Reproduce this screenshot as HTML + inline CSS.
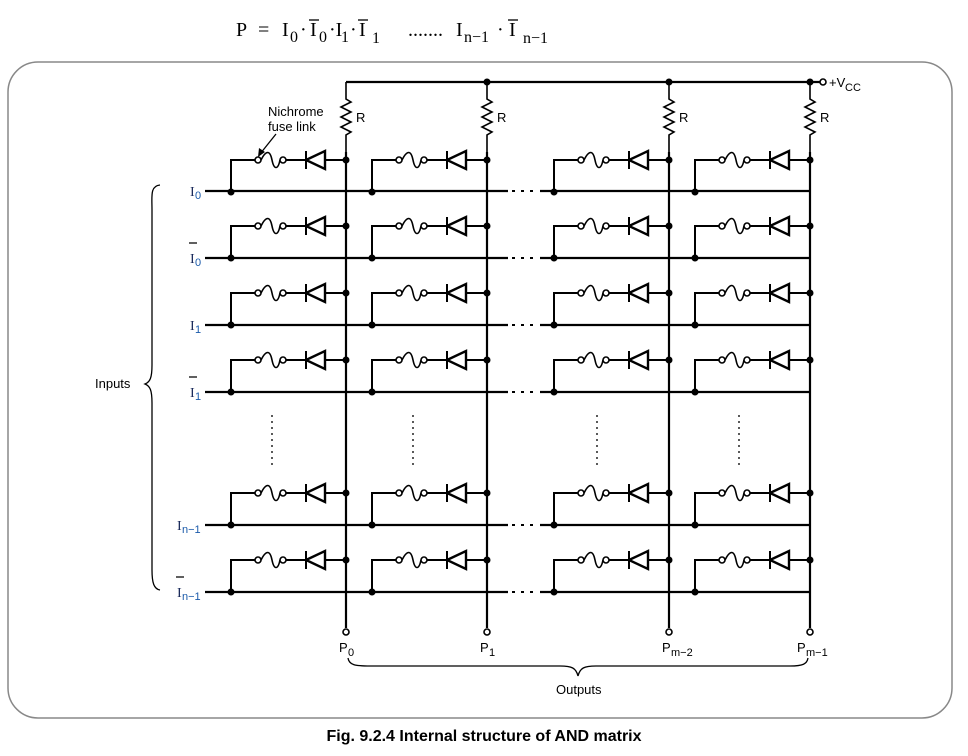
<!DOCTYPE html>
<html><head><meta charset="utf-8"><style>
html,body{margin:0;padding:0;background:#fff;}
svg{display:block;}
</style></head><body>
<svg width="968" height="756" viewBox="0 0 968 756" xmlns="http://www.w3.org/2000/svg">
<defs>
<g id="c" stroke="#000" stroke-width="2" fill="none">
  <path d="M-115 32 V0 H-91"/>
  <circle cx="-88" cy="0" r="3" fill="#fff" stroke-width="1.6"/>
  <path d="M-85 0 C-80 -10 -76 -10 -74 0 C-72 10 -68 10 -66 0" stroke-width="1.6"/>
  <circle cx="-63" cy="0" r="3" fill="#fff" stroke-width="1.6"/>
  <path d="M-60 0 H-40 M-40 -9 V9"/>
  <path d="M-40 0 L-21 -9 V9 Z" stroke-width="2.4"/>
  <path d="M-21 0 H0"/>
  <circle cx="0" cy="0" r="3.5" fill="#000" stroke="none"/>
  <circle cx="-115" cy="32" r="3.5" fill="#000" stroke="none"/>
</g>
<g id="res" stroke="#000" stroke-width="1.6" fill="none">
  <path d="M0 0 V17 L5 20 L-5 25 L5 30 L-5 35 L5 40 L-5 45 L5 50 L0 53 V70"/>
</g>
</defs>

<rect x="8" y="62" width="944" height="656" rx="30" fill="none" stroke="#888" stroke-width="1.5"/>

<g font-family="Liberation Serif, serif" font-size="20" fill="#000">
<text x="236" y="36">P</text>
<text x="258" y="36">=</text>
<text x="282" y="36">I</text><text x="290" y="42" font-size="16">0</text>
<text x="300" y="36">·</text>
<text x="310" y="36">I</text><line x1="309" y1="20" x2="319" y2="20" stroke="#000" stroke-width="1.3"/><text x="319" y="42" font-size="16">0</text>
<text x="329" y="36">·I</text><text x="341" y="42" font-size="16">1</text>
<text x="350" y="36">·</text>
<text x="359" y="36">I</text><line x1="358" y1="20" x2="368" y2="20" stroke="#000" stroke-width="1.3"/><text x="372" y="43" font-size="16">1</text>
<text x="408" y="36">.......</text>
<text x="456" y="36">I</text><text x="464" y="42" font-size="16">n−1</text>
<text x="497" y="36">·</text>
<text x="509" y="36">I</text><line x1="508" y1="20" x2="518" y2="20" stroke="#000" stroke-width="1.3"/><text x="523" y="43" font-size="16">n−1</text>
</g>

<g stroke="#000" stroke-width="2.2" fill="none">
  <path d="M346 82 H820"/>
  <path d="M346 152 V628 M487 152 V628 M669 152 V628 M810 152 V628"/>
  <path d="M205 191 H508 M540 191 H810"/>
  <path d="M205 258 H508 M540 258 H810"/>
  <path d="M205 325 H508 M540 325 H810"/>
  <path d="M205 392 H508 M540 392 H810"/>
  <path d="M205 525 H508 M540 525 H810"/>
  <path d="M205 592 H508 M540 592 H810"/>
</g>
<g stroke="#000" stroke-width="2" stroke-dasharray="3 6">
  <path d="M512 191 H538 M512 258 H538 M512 325 H538 M512 392 H538 M512 525 H538 M512 592 H538"/>
</g>
<g stroke="#000" stroke-width="1.3" stroke-dasharray="2 4">
  <path d="M272 415 V467 M413 415 V467 M597 415 V467 M739 415 V467"/>
</g>
<use href="#res" x="346" y="82"/>
<use href="#res" x="487" y="82"/>
<use href="#res" x="669" y="82"/>
<use href="#res" x="810" y="82"/>
<g fill="#000">
<circle cx="487" cy="82" r="3.5"/><circle cx="669" cy="82" r="3.5"/><circle cx="810" cy="82" r="3.5"/>
</g>
<circle cx="823" cy="82" r="3" fill="#fff" stroke="#000" stroke-width="1.6"/>

<g>
<use href="#c" x="346" y="160"/><use href="#c" x="487" y="160"/><use href="#c" x="669" y="160"/><use href="#c" x="810" y="160"/>
<use href="#c" x="346" y="226"/><use href="#c" x="487" y="226"/><use href="#c" x="669" y="226"/><use href="#c" x="810" y="226"/>
<use href="#c" x="346" y="293"/><use href="#c" x="487" y="293"/><use href="#c" x="669" y="293"/><use href="#c" x="810" y="293"/>
<use href="#c" x="346" y="360"/><use href="#c" x="487" y="360"/><use href="#c" x="669" y="360"/><use href="#c" x="810" y="360"/>
<use href="#c" x="346" y="493"/><use href="#c" x="487" y="493"/><use href="#c" x="669" y="493"/><use href="#c" x="810" y="493"/>
<use href="#c" x="346" y="560"/><use href="#c" x="487" y="560"/><use href="#c" x="669" y="560"/><use href="#c" x="810" y="560"/>
</g>

<g fill="#fff" stroke="#000" stroke-width="1.6">
<circle cx="346" cy="632" r="3"/><circle cx="487" cy="632" r="3"/><circle cx="669" cy="632" r="3"/><circle cx="810" cy="632" r="3"/>
</g>

<g font-family="Liberation Sans, sans-serif" font-size="13" fill="#000">
<text x="356" y="122">R</text><text x="497" y="122">R</text><text x="679" y="122">R</text><text x="820" y="122">R</text>
<text x="829" y="87">+V</text><text x="845" y="91" font-size="11">CC</text>
<text x="268" y="116">Nichrome</text>
<text x="268" y="131">fuse link</text>
<text x="339" y="652">P</text><text x="348" y="656" font-size="11">0</text>
<text x="480" y="652">P</text><text x="489" y="656" font-size="11">1</text>
<text x="662" y="652">P</text><text x="671" y="656" font-size="11">m−2</text>
<text x="797" y="652">P</text><text x="806" y="656" font-size="11">m−1</text>
<text x="95" y="388">Inputs</text>
<text x="556" y="694">Outputs</text>
</g>
<path d="M276 134 L260 154" stroke="#000" stroke-width="1.3"/>
<path d="M258 157 L259 148 L265 152 Z" fill="#000"/>

<g font-family="Liberation Serif, serif" font-size="14" fill="#1a2a5a">
<text x="190" y="196">I</text><text x="195" y="199" font-size="11" font-family="Liberation Sans, sans-serif" fill="#1a5aaa">0</text>
<text x="190" y="263">I</text><text x="195" y="266" font-size="11" font-family="Liberation Sans, sans-serif" fill="#1a5aaa">0</text>
<text x="190" y="330">I</text><text x="195" y="333" font-size="11" font-family="Liberation Sans, sans-serif" fill="#1a5aaa">1</text>
<text x="190" y="397">I</text><text x="195" y="400" font-size="11" font-family="Liberation Sans, sans-serif" fill="#1a5aaa">1</text>
<text x="177" y="530">I</text><text x="182" y="533" font-size="11" font-family="Liberation Sans, sans-serif" fill="#1a5aaa">n−1</text>
<text x="177" y="597">I</text><text x="182" y="600" font-size="11" font-family="Liberation Sans, sans-serif" fill="#1a5aaa">n−1</text>
</g>
<g stroke="#000" stroke-width="1.2">
<path d="M189 243 H197 M189 377 H197 M176 577 H184"/>
</g>

<g stroke="#000" stroke-width="1.3" fill="none">
<path d="M160 185 C150 186 152 196 152 210 V365 C152 378 150 382 145 384 C150 386 152 390 152 403 V570 C152 583 154 589 160 590"/>
<path d="M348 658 C349 665 355 666 370 666 H560 C572 666 576 668 578 676 C580 668 584 666 596 666 H790 C803 666 807 664 808 658"/>
</g>

<text x="484" y="741" text-anchor="middle" font-family="Liberation Sans, sans-serif" font-weight="bold" font-size="16" fill="#000">Fig. 9.2.4 Internal structure of AND matrix</text>
</svg>
</body></html>
